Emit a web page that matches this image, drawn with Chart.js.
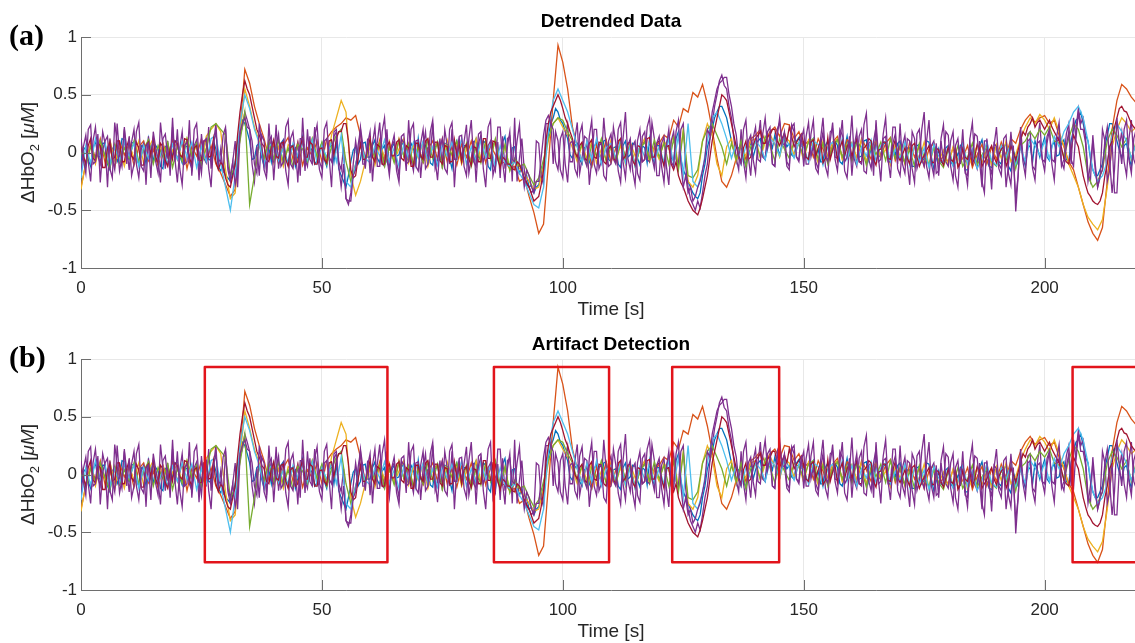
<!DOCTYPE html>
<html><head><meta charset="utf-8">
<script src="https://cdn.jsdelivr.net/npm/chart.js@4.4.0/dist/chart.umd.min.js"></script>
<style>
html,body{margin:0;padding:0;background:#fff;overflow:hidden;width:1135px;height:643px;}
.wrap{position:absolute;left:0;width:1145px;}
#wa{top:0;height:320px;}
#wb{top:320px;height:323px;}
canvas{display:block;}
</style></head><body>
<div class="wrap" id="wa"><canvas id="ca" width="1145" height="320"></canvas></div>
<div class="wrap" id="wb"><canvas id="cb" width="1145" height="323"></canvas></div>
<script>
// ---- data (channel values, in units of 0.01 uM) ----
const UNIT = 0.01;
const X_TICKS = [0, 50, 100, 150, 200];
const Y_TICKS = [-1, -0.5, 0, 0.5, 1];
const X_MAX = 220;

// 2 samples per second
const BLUE_CH = [
-8,2,5,-6,-12,4,10,-3,-4,8,
8,-10,-15,3,6,-8,-3,12,11,-4,
-6,8,9,-5,-10,6,4,-10,12,2,
-8,6,3,-12,-14,5,7,-8,-2,10,
10,-3,-9,6,5,-8,-11,4,8,-12,
-5,3,12,-6,-7,10,3,-12,-16,-10,
-20,-22,-25,-18,-8,10,15,28,25,18,
10,-6,-5,6,8,-4,-12,3,4,-8,
9,-4,-6,8,11,-3,-10,6,5,-12,
-3,6,14,-5,-9,4,2,-10,-7,3,
8,-6,-12,4,6,-8,10,-14,-20,-25,
-30,-20,-8,2,5,-10,-6,8,9,-4,
-4,6,11,-5,-9,3,6,-8,-13,4,
8,-3,-2,6,10,-5,-7,8,4,-10,
12,-4,-8,6,3,-9,-11,5,9,-6,
-5,8,7,-5,-14,4,10,-3,-3,6,
6,-5,-9,8,12,-4,-5,10,8,-12,
-15,6,10,-4,-7,9,14,-8,-12,4,
5,-10,-18,-12,-25,-20,-30,-28,-35,-30,
-28,-20,-10,5,15,25,30,38,35,28,
25,18,12,-2,-5,6,8,-6,-10,4,
6,-8,-12,5,9,-3,-4,10,11,-6,
-8,4,5,-10,-13,6,10,-4,-2,8,
7,-5,-11,6,4,-9,12,-3,-9,6,
6,-4,-10,8,14,-5,-7,12,18,-6,
-15,-20,-25,-30,-35,-38,-40,-35,-20,-10,
5,12,20,30,35,40,40,35,30,20,
10,2,-8,4,6,-5,-12,3,9,-4,
4,10,12,-2,-6,8,10,4,15,6,
-3,8,11,5,8,-2,-4,10,13,6,
9,-4,-5,8,12,-3,3,-8,-8,6,
10,-4,6,10,6,-8,-10,4,14,-2,
-6,8,9,-4,-3,10,11,-6,5,-8,
12,-4,-2,8,8,-6,-7,5,-2,8,
10,-6,-8,4,4,-12,-12,6,7,-8,
-5,10,9,-4,-14,-6,3,-8,-10,4,
6,-8,-11,2,-3,6,8,-15,-15,-4,
2,-8,-9,6,11,-4,-6,-12,-13,4,
4,-8,-10,6,7,-12,-16,2,-5,-10,
9,-4,-12,4,6,-8,10,4,-4,6,
13,-4,-7,6,9,-3,-2,8,11,-6,
-8,10,20,28,30,35,25,15,10,-5,
-15,-20,-20,-15,-10,5,15,25,25,18,
10,2,-5,6,8,-4,-12,3,6,-8];

// 1 sample per second
const ORANGE_CH = [
-30,-10,8,-5,12,-9,4,-13,9,-2,
7,-11,5,10,-7,3,-12,8,-4,11,
-6,9,-14,5,-3,12,-8,6,-10,-18,
-28,-38,-32,20,72,60,40,25,12,-5,
8,-10,6,13,-6,9,-11,4,-3,10,
-8,12,18,22,25,30,28,32,15,-6,
9,-5,11,-10,4,-7,12,-3,8,-12,
6,-9,3,10,-6,12,-8,5,-11,7,
-4,10,-7,13,-9,6,-2,-10,-8,-14,
-12,-25,-22,-38,-52,-70,-62,-10,45,93,
78,55,22,5,-8,9,-12,6,-5,11,
-9,4,12,-6,8,-11,3,10,-7,5,
8,15,12,28,22,38,35,52,48,59,
42,20,-5,-25,-30,-20,-5,8,-6,12,
15,20,10,18,22,14,25,24,12,18,
6,10,-4,12,3,-8,9,14,-5,11,
7,-9,12,4,-6,10,-3,8,13,-7,
5,-10,9,-4,6,-12,3,8,-9,-3,
-8,4,-11,-5,6,-13,-2,7,-10,5,
-6,9,-3,12,8,20,28,33,26,30,
32,25,28,15,5,-8,-15,-30,-45,-60,
-70,-76,-65,-25,20,45,59,55,48,43];

const YELLOW_CH = [
-32,-8,6,-10,9,-4,11,-7,3,-12,
8,-5,10,-9,4,12,-6,7,-11,2,
9,-7,12,-3,6,-10,14,20,25,18,
-15,-40,-35,15,55,40,22,10,-6,8,
-9,5,-12,7,3,-8,10,-5,12,-4,
6,-9,15,30,45,35,-20,-37,-25,-8,
5,-11,8,-4,10,-7,3,12,-9,6,
-5,9,-12,4,8,-6,11,-3,7,-10,
3,-8,12,-6,9,-4,11,-10,6,-15,
-8,-14,-18,-25,-32,-30,-12,10,25,30,
22,15,4,-8,7,-5,10,-9,3,-6,
11,-7,6,-10,9,-3,5,12,-8,4,
-6,10,3,15,-12,20,-25,-30,-20,10,
25,15,-10,-20,5,12,-8,6,-3,10,
12,-5,9,16,7,-4,13,10,-2,8,
-7,11,4,-9,10,-3,8,12,-6,5,
9,-4,11,-8,6,10,-5,3,-11,7,
-3,8,-10,5,-6,9,-12,4,-8,2,
-10,5,-7,9,-13,-4,6,-9,3,-11,
7,-5,10,-8,-2,12,22,30,25,33,
28,20,30,18,6,-10,-20,-30,-45,-56,
-62,-67,-58,-30,5,20,30,25,18,22];

// 2 samples per second
const PURPLE_CH = [
-20,5,15,-8,-25,10,22,-3,-10,18,
8,-30,12,-6,-15,25,-2,-12,20,4,
-15,9,20,-10,-22,3,8,-28,14,-4,
12,-8,-18,26,5,-14,10,-20,22,-6,
-26,4,18,-10,-8,28,-20,6,11,-24,
16,-5,-9,22,-14,8,25,-12,3,-18,
20,-15,-25,-8,10,-30,15,22,35,28,
20,-10,-25,5,-20,15,10,-18,25,-5,
-8,24,-14,3,10,-16,-28,12,18,-4,
8,-20,30,-6,-12,14,-10,22,4,-15,
-22,10,12,-5,-30,18,20,-8,-15,5,
-40,-45,-35,-10,10,-5,22,6,-14,8,
18,-25,4,9,26,-10,-12,20,-15,6,
15,-8,-20,12,8,-16,28,-6,-16,10,
11,-22,5,18,-9,-3,25,-14,-6,12,
-14,20,6,-10,20,-30,4,12,-6,9,
24,-18,-5,10,-26,8,15,-8,-2,22,
28,-20,-10,9,-22,14,-14,5,18,-25,
30,-25,-5,12,-15,-28,-30,-35,-32,10,
8,-20,-28,25,25,30,-10,18,10,-15,
-22,15,25,-8,-8,12,26,-18,-5,14,
12,-28,-6,20,20,-14,-8,30,4,-12,
-10,22,8,-16,-26,12,35,-5,-15,6,
10,-18,-24,14,18,-6,-8,26,12,-20,
-20,8,14,-12,-28,10,18,-6,-10,20,
25,-12,-30,-40,-45,-50,-42,-48,-35,-20,
-10,10,25,40,50,62,67,58,55,40,
30,12,-5,-15,20,-8,-22,10,15,-6,
-18,10,28,-4,-6,18,22,-10,-12,14,
30,6,8,-12,-15,22,25,-4,-8,12,
20,-10,-10,16,28,-8,-14,6,18,-12,
-20,10,26,-4,-5,20,15,-16,-22,4,
32,-6,-12,14,20,-16,-18,8,10,-20,
28,-4,-25,12,14,-8,-8,22,22,-14,
-20,6,15,-10,-28,18,12,-14,-6,20,
35,-12,-22,6,10,-18,-16,12,24,-8,
-12,10,18,-20,-30,4,8,-18,-20,12,
26,-8,-14,10,-25,-35,12,-6,-32,8,
5,-14,-20,12,15,-18,-28,6,-51,-20,
22,-4,-10,16,18,-12,-15,10,26,-6,
-8,14,20,-10,-24,8,14,-12,-6,16,
25,-6,-12,20,38,25,30,12,-18,-25,
15,-10,-30,-22,20,10,-25,-15,10,-35,
-35,5,18,-8,-20,12,28,-6,-12,20];

// 1 sample per second
const GREEN_CH = [
8,-12,5,-6,10,-3,-14,7,-9,4,
-5,10,-8,3,11,-10,6,-4,9,-13,
5,-7,12,-2,8,-11,4,22,25,20,
15,-20,-12,10,35,-45,-20,8,-5,10,
-6,11,-9,4,-12,7,3,-8,12,-4,
9,-10,5,15,20,-8,-25,-10,6,-7,
10,-4,8,-12,5,-9,11,-3,7,-10,
4,-8,11,-5,9,-13,6,-2,10,-7,
8,-12,5,-9,10,-6,12,-11,7,-16,
-5,-12,-10,-20,-28,-22,-6,12,25,30,
28,18,10,-5,8,-11,6,-3,12,-8,
5,-9,10,-4,7,-12,3,9,-6,11,
-4,8,-10,12,-15,18,-20,-22,-15,10,
20,25,15,5,-10,8,-6,10,-12,5,
9,-4,14,6,-7,12,3,-5,10,7,
-3,9,12,-6,8,-10,5,11,-4,7,
-8,10,4,-11,7,-2,9,-7,12,-5,
6,-9,3,-12,8,-4,-10,5,-7,-13,
3,-9,6,-12,-4,8,-11,-2,5,-8,
-12,4,-7,9,-14,6,10,18,12,20,
15,22,10,8,-4,12,25,20,5,-20,
-30,-25,-15,10,20,15,5,12,-6,10];

const CYAN_CH = [
-22,6,-9,12,-4,8,-11,5,-7,10,
-3,8,-12,6,-5,11,-8,4,-10,7,
-6,10,-4,9,-13,5,-8,12,15,-10,
-30,-50,-20,25,50,38,20,8,-10,5,
10,-7,4,-11,8,-3,9,-6,11,-9,
6,-4,10,-8,15,-25,-30,-10,7,-5,
-9,6,-3,11,-8,4,-12,7,-5,9,
-4,10,-8,5,-11,7,-3,9,-6,12,
-10,5,-7,11,-4,8,-13,6,-9,-12,
-8,-18,-25,-35,-45,-48,-30,20,45,55,
45,35,20,5,-8,10,-6,12,-10,4,
8,-5,11,-9,6,-12,7,-4,10,-7,
5,-8,12,-10,15,-20,25,-25,-30,-15,
10,30,35,25,12,-5,8,-10,6,-3,
10,5,-6,12,8,-3,14,6,-5,9,
4,-8,10,7,-11,5,9,-4,12,-6,
8,-10,5,-3,11,-7,6,10,-8,3,
-5,9,-11,6,-8,4,-13,7,-3,-9,
5,-12,-6,8,-10,3,-14,-5,9,-7,
-11,6,-4,8,-10,5,-8,12,6,-2,
10,-6,14,5,18,25,35,40,30,10,
-15,-25,-20,-8,15,25,18,10,-5,8];

// 2 samples per second
const DARKRED_CH = [
5,-3,-10,6,12,-5,-7,8,6,-13,
-13,4,9,-6,-4,10,10,-8,-8,5,
12,-3,-6,9,4,-11,-11,6,9,-2,
13,-4,-9,8,5,-7,-12,3,-6,10,
8,-2,-4,12,11,-5,-10,4,6,-7,
-7,10,10,-4,-3,12,-8,-15,-8,-12,
-22,-28,-30,-20,-10,15,35,50,62,55,
50,40,30,20,15,8,5,-6,-8,4,
11,-3,-5,8,9,-6,-12,4,6,-10,
-8,5,12,-4,-4,9,7,-10,-10,3,
4,-6,-9,10,11,-2,12,18,18,25,
25,10,-15,-22,-20,-5,8,-6,-6,4,
12,-4,-8,7,5,-10,-10,6,9,-3,
-3,9,11,-5,-7,6,4,-12,-12,8,
8,-3,-6,10,12,-4,-4,9,9,-7,
-10,6,5,-8,-8,11,-3,7,-8,4,
7,-6,-11,5,4,-8,-8,12,12,-5,
-5,10,9,-6,-13,-4,-6,-10,-10,-14,
-15,-8,-10,-16,-22,-26,-30,-36,-42,-40,
-38,-28,-15,10,25,35,40,45,50,45,
38,30,25,18,12,0,-4,6,9,-5,
-7,8,11,-4,-5,9,8,-8,-10,3,
6,-5,-8,10,12,-6,-3,8,9,-7,
-11,6,5,-8,-6,12,13,-4,-4,8,
10,-4,-12,5,6,-10,-15,-8,-20,-26,
-30,-36,-42,-46,-50,-52,-54,-48,-40,-30,
-20,-5,10,20,30,40,50,48,45,35,
25,15,5,-3,-8,4,10,-6,-4,6,
12,15,18,8,8,14,15,20,20,10,
6,12,17,10,22,14,5,9,12,16,
8,-4,-6,9,11,-3,4,10,-9,-5,
13,-6,2,8,-7,4,10,-3,5,9,
-4,6,12,-8,-8,4,6,12,10,-6,
-11,2,3,9,9,-5,-6,4,11,-3,
-7,-2,4,-5,-10,6,8,-4,-12,-6,
-3,2,6,-8,-9,4,2,-6,-11,-3,
5,-6,-8,4,-13,-9,3,-4,-6,2,
-10,-4,7,3,-12,-8,-4,2,6,-4,
-9,-2,3,5,-12,-6,6,0,-7,2,
10,18,15,22,25,30,22,26,28,24,
20,24,28,22,18,14,10,4,-5,-8,
-10,2,15,10,5,-8,-20,-28,-35,-38,
-42,-44,-45,-42,-35,-20,-10,5,10,22,
30,38,40,36,35,30,25,22,20,18];

const PURPLE2_CH = [
12,-6,-18,20,24,-10,-8,16,-26,2,
10,14,-14,-22,26,8,-16,-4,22,-10,
14,-20,-10,18,26,-12,-16,6,8,-22,
18,4,-6,-26,12,16,-4,-12,30,-8,
20,-14,-28,6,9,-8,-14,20,25,-4,
-18,10,12,-14,-30,8,18,-6,-8,15,
22,-12,-20,-8,-28,-15,18,25,30,22,
20,10,-10,-18,25,8,-15,-22,10,14,
-24,6,16,-12,-8,22,28,-10,-14,5,
-26,12,12,-16,20,-6,-10,14,24,-8,
-14,20,26,-4,-8,14,18,-12,-30,-10,
-40,-42,-42,-20,-15,6,20,-10,-10,12,
-18,8,22,-12,-12,18,30,-4,-20,6,
10,-16,-26,14,16,-10,-8,20,25,-12,
-16,8,20,-14,-10,18,28,-6,-24,4,
12,-14,-18,20,26,-6,-6,14,15,-12,
-20,12,28,-8,-12,16,18,-14,-30,6,
10,-10,-16,22,22,-8,-26,12,14,-6,
-8,10,24,-12,-30,-15,-20,-30,-35,-25,
-25,-5,15,28,32,25,20,-8,-15,12,
18,-10,-26,8,10,-14,-20,16,24,-6,
-12,14,28,-10,-18,6,8,-20,-24,10,
16,-6,-10,20,26,-8,-22,6,12,-16,
-28,10,20,-8,-6,22,30,-4,-14,8,
14,-12,-26,6,20,-8,-12,18,28,-10,
-30,-20,-35,-30,-42,-38,-30,-25,-15,-5,
20,15,35,45,55,60,62,65,65,50,
40,25,15,-5,-10,20,28,-4,-20,12,
22,-6,-8,16,30,4,15,-10,-12,20,
26,8,18,-8,-12,24,18,-4,-6,16,
-12,14,26,-4,6,-14,-18,12,30,-2,
-8,18,20,-6,-16,10,28,-8,-4,14,
-20,6,18,-8,-10,24,34,-6,-14,10,
22,-8,-6,16,30,-6,-22,8,16,-10,
25,-10,-18,12,10,-14,-26,16,20,-6,
-12,10,28,-10,-20,8,-20,10,-8,18,
15,-12,-24,6,12,-10,20,-14,-28,8,
-6,16,14,-8,-30,10,10,-12,-18,6,
22,-10,-14,6,-30,-10,18,-6,-40,-20,
16,-8,-20,10,12,-14,-24,8,10,-6,
-16,8,20,-6,-8,14,26,-8,-14,6,
18,-10,30,12,35,20,20,8,-25,-10,
10,-15,-30,-20,-15,10,22,-8,-35,-15,
30,8,-10,20,28,-6,-18,12,20,-10];

// detected artifact segments [s]
const ART_START = [25.7, 85.7, 122.7, 205.8];
const ART_END   = [63.6, 109.6, 144.9, 232];
const BOX_TOP = 0.93;
const BOX_BOTTOM = -0.76;

const CHANNELS   = [BLUE_CH, ORANGE_CH, YELLOW_CH, PURPLE_CH, GREEN_CH, CYAN_CH, DARKRED_CH, PURPLE2_CH];
const CH_STEP_S  = [0.5, 1, 1, 0.5, 1, 1, 0.5, 0.5];
const CH_COLORS  = ['#0072BD','#D95319','#EDB120','#7E2F8E','#77AC30','#4DBEEE','#A2142F','#7E2F8E'];

// ---- drawing ----
const FONT = "'Liberation Sans', Arial, Helvetica, sans-serif";

const panelText = {
  id: 'panelText',
  afterDraw(chart, args, o) {
    const ctx = chart.ctx, a = chart.chartArea;
    const xs = chart.scales.x, ys = chart.scales.y;
    ctx.save();
    ctx.strokeStyle = '#6e6e6e'; ctx.lineWidth = 1;
    ctx.beginPath();
    X_TICKS.forEach(v => { if (v === 0) return; const px = Math.round(xs.getPixelForValue(v)) + 0.5; ctx.moveTo(px, a.bottom); ctx.lineTo(px, a.bottom - 10); });
    Y_TICKS.forEach(v => { const py = Math.round(ys.getPixelForValue(v)) + 0.5; ctx.moveTo(a.left, py); ctx.lineTo(a.left + 10, py); });
    ctx.stroke();
    ctx.fillStyle = '#000';
    ctx.font = "bold 30px 'Liberation Serif', 'Times New Roman', serif";
    ctx.textAlign = 'left'; ctx.textBaseline = 'middle';
    ctx.fillText(o.letter, 9, o.letterY);
    ctx.font = 'bold 19px ' + FONT;
    ctx.textAlign = 'center'; ctx.textBaseline = 'middle';
    ctx.fillText(o.title, (a.left + a.right) / 2, o.titleY);
    ctx.font = '19px ' + FONT;
    ctx.fillStyle = '#262626';
    ctx.fillText('Time [s]', (a.left + a.right) / 2, a.bottom + 42);
    const parts = [
      {t: '\u0394HbO', f: '19px ' + FONT, dy: 0},
      {t: '2', f: '13px ' + FONT, dy: 5},
      {t: ' [', f: '19px ' + FONT, dy: 0},
      {t: '\u03bcM', f: 'italic 19px ' + FONT, dy: 0},
      {t: ']', f: '19px ' + FONT, dy: 0}
    ];
    let total = 0;
    parts.forEach(p => { ctx.font = p.f; p.w = ctx.measureText(p.t).width; total += p.w; });
    ctx.translate(27, (a.top + a.bottom) / 2);
    ctx.rotate(-Math.PI / 2);
    ctx.textAlign = 'left'; ctx.textBaseline = 'alphabetic';
    let cx = -total / 2;
    parts.forEach(p => { ctx.font = p.f; ctx.fillText(p.t, cx, 7 + p.dy); cx += p.w; });
    ctx.restore();
  }
};

function makeChart(id, cfg) {
  const n = CHANNELS.length;
  const datasets = CHANNELS.map((vals, i) => ({
    label: 'ch' + (i + 1),
    data: vals.map((v, k) => ({x: k * CH_STEP_S[i], y: v * UNIT})),
    borderColor: CH_COLORS[i], borderWidth: 1.3, pointRadius: 0, fill: false, tension: 0,
    order: n - i + 1
  }));
  if (cfg.boxes) {
    const pts = [];
    ART_START.forEach((s, i) => {
      const e = ART_END[i];
      pts.push({x: s, y: 0}, {x: s, y: BOX_TOP}, {x: e, y: BOX_TOP}, {x: e, y: BOX_BOTTOM}, {x: s, y: BOX_BOTTOM}, {x: s, y: 0}, {x: s + 0.01, y: null});
    });
    datasets.push({label: 'artifacts', data: pts, borderColor: '#e2141b', borderWidth: 2.5,
      borderJoinStyle: 'round', pointRadius: 0, fill: false, spanGaps: false, order: 0});
  }
  return new Chart(document.getElementById(id), {
    type: 'line',
    data: {datasets},
    options: {
      responsive: false, animation: false, events: [],
      layout: {padding: {left: 0, right: 4, top: cfg.top, bottom: 0}},
      plugins: {legend: {display: false}, tooltip: {enabled: false}, panelText: cfg},
      scales: {
        x: {
          type: 'linear', min: 0, max: X_MAX,
          afterBuildTicks: sc => { sc.ticks = X_TICKS.map(v => ({value: v})); },
          afterFit: sc => { sc.height = cfg.xh; },
          grid: {color: '#e8e8e8', drawTicks: false, lineWidth: 1},
          border: {color: '#6e6e6e', width: 1},
          ticks: {padding: 10, color: '#262626', font: {family: FONT, size: 17}, maxRotation: 0, autoSkip: false,
                  callback: v => String(v)}
        },
        y: {
          min: -1, max: 1,
          afterBuildTicks: sc => { sc.ticks = Y_TICKS.map(v => ({value: v})); },
          afterFit: sc => { sc.width = 81; },
          grid: {color: '#e8e8e8', drawTicks: false, lineWidth: 1},
          border: {color: '#6e6e6e', width: 1},
          ticks: {padding: 4, color: '#262626', font: {family: FONT, size: 17}, callback: v => String(v)}
        }
      }
    },
    plugins: [panelText]
  });
}

makeChart('ca', {letter: '(a)', letterY: 37, title: 'Detrended Data', titleY: 22, top: 37, xh: 52, boxes: false});
makeChart('cb', {letter: '(b)', letterY: 39, title: 'Artifact Detection', titleY: 25, top: 39, xh: 53, boxes: true});
</script>
</body></html>
